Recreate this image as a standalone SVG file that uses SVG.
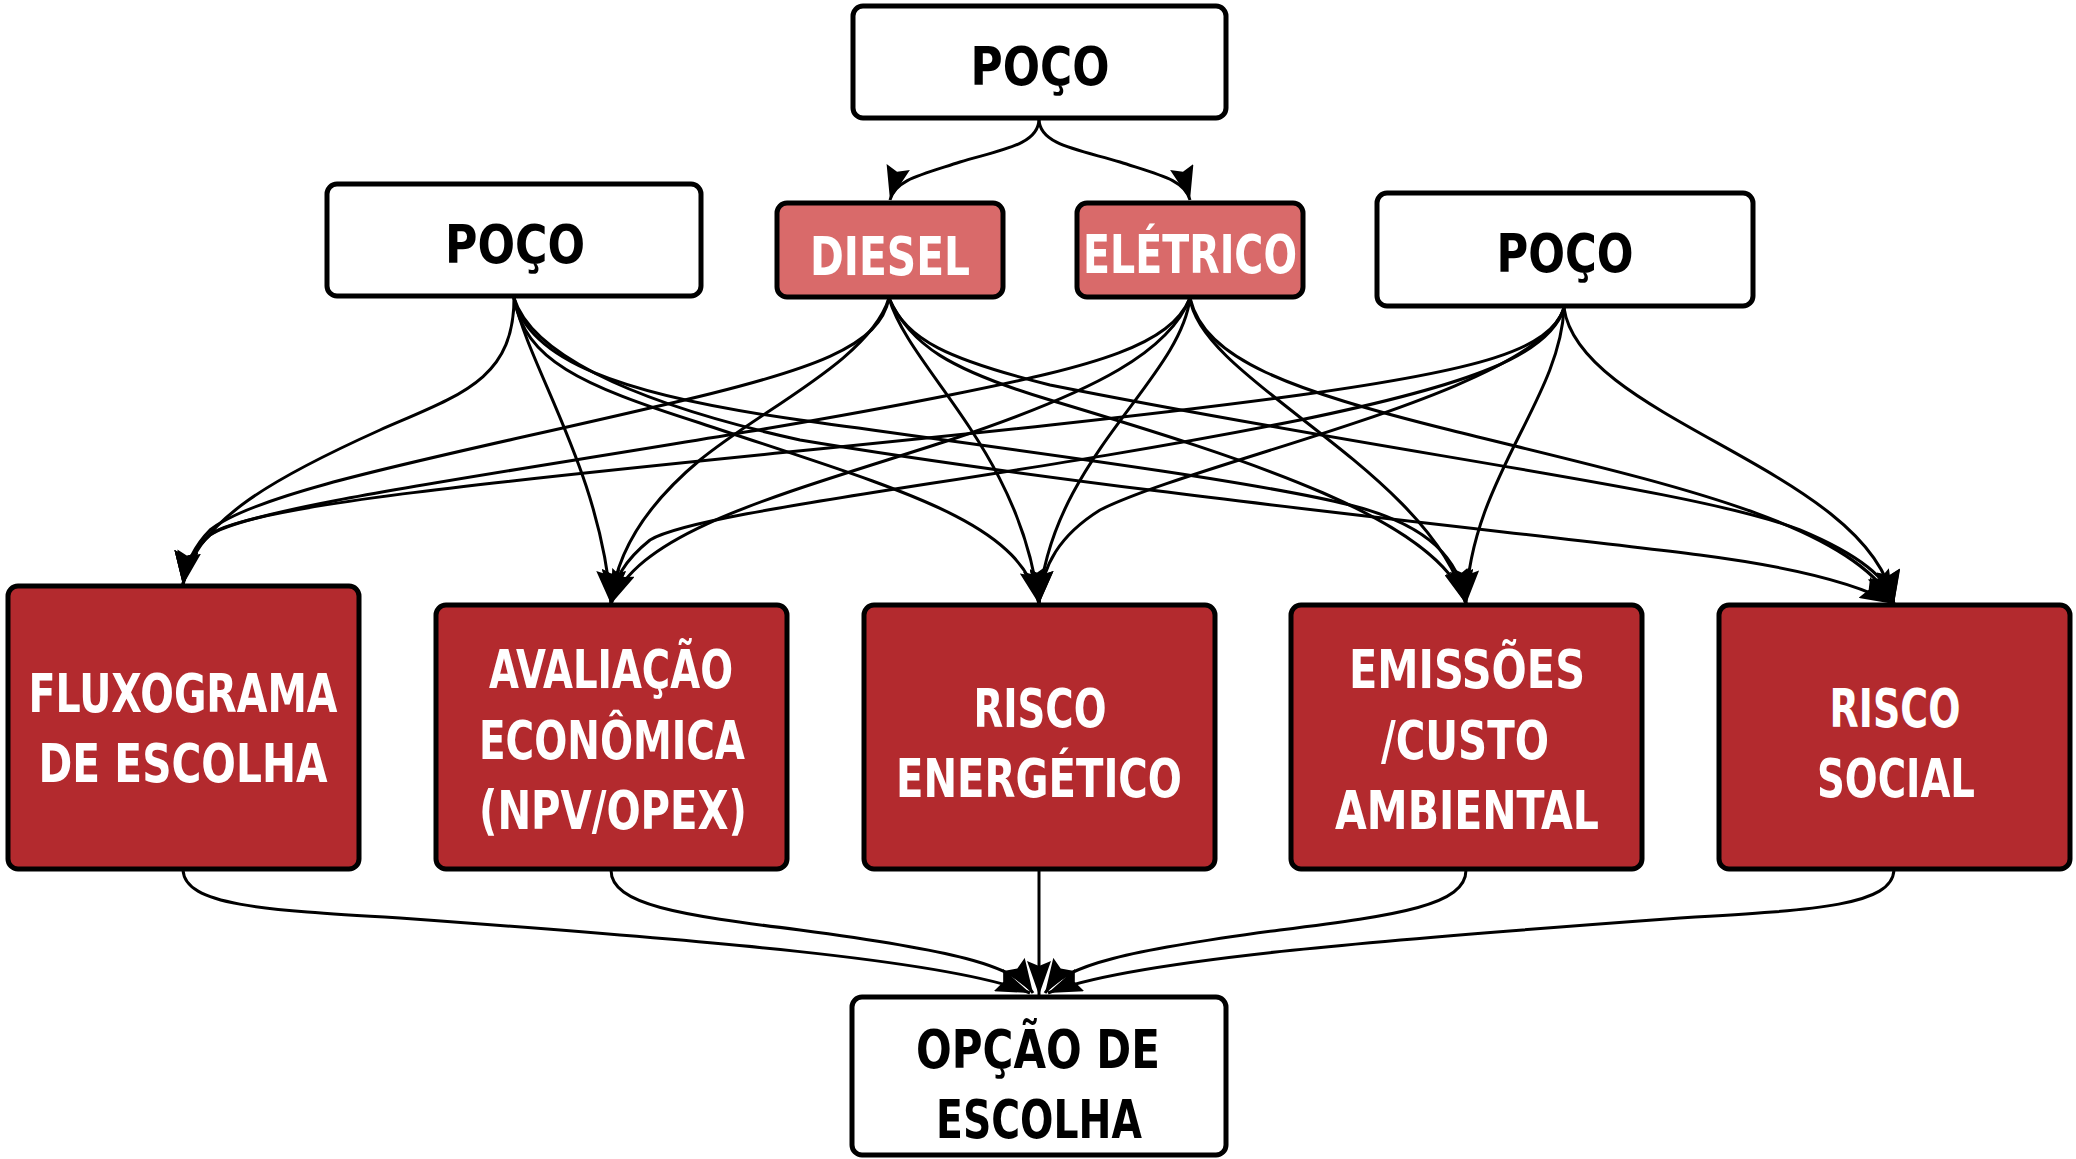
<svg xmlns="http://www.w3.org/2000/svg" width="2076" height="1159" viewBox="0 0 2076 1159">
<defs>
<style>
.box{stroke:#000;stroke-width:5}
.w{fill:#fff}
.r{fill:#B32A2E}
.l{fill:#D96A6A}
.t{font-family:"Liberation Sans Narrow","DejaVu Sans Condensed","Liberation Sans",sans-serif;font-size:54px;font-weight:bold;text-anchor:middle}
.tb{fill:#000}
.tw{fill:#fff}
.e{fill:none;stroke:#000;stroke-width:3;marker-end:url(#ah)}
</style>
<marker id="ah" viewBox="0 0 34 24" refX="34" refY="12" markerWidth="34" markerHeight="24" markerUnits="userSpaceOnUse" orient="auto">
<path d="M0,0 L34,12 L0,24 L5,12 z" fill="#000"/>
</marker>
</defs>
<rect width="2076" height="1159" fill="#fff"/>
<g id="connectors">
<path class="e" d="M1039,119 C1039,145 1000,150 960,162 C920,175 895,180 890,200"/>
<path class="e" d="M1039,119 C1039,145 1080,150 1120,162 C1160,175 1185,180 1190,200"/>
<path class="e" d="M514,298 C514,380 460,395 380,430 C280,475 195,520 183,585"/>
<path class="e" d="M514,298 C530,370 600,470 611,604"/>
<path class="e" d="M514,298 C525,360 580,385 700,423 C900,490 1020,520 1039,604"/>
<path class="e" d="M514,298 C528,360 620,395 800,420 C1000,448 1250,480 1350,505 C1430,525 1460,560 1466,604"/>
<path class="e" d="M514,298 C530,350 620,400 800,440 C1100,490 1500,530 1700,555 C1800,568 1860,585 1894,604"/>
<path class="e" d="M889,298 C880,345 820,370 650,408 C450,455 260,490 210,530 C195,545 185,565 183,585"/>
<path class="e" d="M889,298 C870,360 760,410 700,460 C640,510 615,560 611,604"/>
<path class="e" d="M889,298 C910,370 1020,450 1039,604"/>
<path class="e" d="M889,298 C910,345 950,370 1050,400 C1250,460 1440,520 1466,604"/>
<path class="e" d="M889,298 C905,340 950,360 1050,385 C1400,455 1700,490 1800,530 C1860,555 1890,580 1894,604"/>
<path class="e" d="M1190,298 C1170,345 1100,365 950,395 C650,455 260,500 210,535 C195,548 185,565 183,585"/>
<path class="e" d="M1190,298 C1170,350 1100,390 950,440 C780,495 640,530 611,604"/>
<path class="e" d="M1190,298 C1180,380 1050,460 1039,604"/>
<path class="e" d="M1190,298 C1200,380 1430,470 1466,604"/>
<path class="e" d="M1190,298 C1205,360 1290,390 1450,430 C1650,480 1850,520 1894,604"/>
<path class="e" d="M1564,308 C1550,350 1480,370 1300,395 C900,450 260,490 210,535 C195,548 185,565 183,585"/>
<path class="e" d="M1564,308 C1550,355 1470,385 1300,420 C1000,480 700,510 650,540 C625,560 613,580 611,604"/>
<path class="e" d="M1564,308 C1540,390 1200,460 1100,510 C1060,535 1042,565 1039,604"/>
<path class="e" d="M1564,308 C1560,400 1470,480 1466,604"/>
<path class="e" d="M1564,308 C1580,420 1870,470 1894,604"/>
<path class="e" d="M183,870 C185,905 260,910 400,918 C700,940 950,960 1030,993"/>
<path class="e" d="M611,870 C611,905 680,915 800,930 C950,950 1015,965 1033,993"/>
<path class="e" d="M1039,870 L1039,995"/>
<path class="e" d="M1466,870 C1466,905 1400,915 1280,930 C1130,950 1063,965 1045,993"/>
<path class="e" d="M1894,870 C1892,905 1820,910 1680,918 C1380,940 1128,960 1048,993"/>
</g>
<g id="poco-top">
<rect class="box w" x="853" y="6" width="373" height="112" rx="10"/>
<text class="t tb" x="1040" y="85" textLength="139" lengthAdjust="spacingAndGlyphs">POÇO</text>
</g>
<g id="poco-left">
<rect class="box w" x="327" y="184" width="374" height="112" rx="10"/>
<text class="t tb" x="515" y="263" textLength="140" lengthAdjust="spacingAndGlyphs">POÇO</text>
</g>
<g id="diesel">
<rect class="box l" x="777" y="203" width="226" height="94" rx="10"/>
<text class="t tw" x="890" y="275" textLength="160" lengthAdjust="spacingAndGlyphs">DIESEL</text>
</g>
<g id="eletrico">
<rect class="box l" x="1077" y="203" width="226" height="94" rx="10"/>
<text class="t tw" x="1190" y="273" textLength="214" lengthAdjust="spacingAndGlyphs">ELÉTRICO</text>
</g>
<g id="poco-right">
<rect class="box w" x="1377" y="193" width="376" height="113" rx="10"/>
<text class="t tb" x="1565" y="272" textLength="137" lengthAdjust="spacingAndGlyphs">POÇO</text>
</g>
<g id="fluxograma">
<rect class="box r" x="8" y="586" width="351" height="283" rx="10"/>
<text class="t tw" x="183" y="712" textLength="309" lengthAdjust="spacingAndGlyphs">FLUXOGRAMA</text>
<text class="t tw" x="183" y="782" textLength="289" lengthAdjust="spacingAndGlyphs">DE ESCOLHA</text>
</g>
<g id="avaliacao">
<rect class="box r" x="436" y="605" width="351" height="264" rx="10"/>
<text class="t tw" x="611" y="688" textLength="244" lengthAdjust="spacingAndGlyphs">AVALIAÇÃO</text>
<text class="t tw" x="612" y="759" textLength="266" lengthAdjust="spacingAndGlyphs">ECONÔMICA</text>
<text class="t tw" x="613" y="829" textLength="268" lengthAdjust="spacingAndGlyphs">(NPV/OPEX)</text>
</g>
<g id="risco-energetico">
<rect class="box r" x="864" y="605" width="351" height="264" rx="10"/>
<text class="t tw" x="1040" y="727" textLength="133" lengthAdjust="spacingAndGlyphs">RISCO</text>
<text class="t tw" x="1039" y="797" textLength="286" lengthAdjust="spacingAndGlyphs">ENERGÉTICO</text>
</g>
<g id="emissoes">
<rect class="box r" x="1291" y="605" width="351" height="264" rx="10"/>
<text class="t tw" x="1467" y="688" textLength="236" lengthAdjust="spacingAndGlyphs">EMISSÕES</text>
<text class="t tw" x="1465" y="759" textLength="168" lengthAdjust="spacingAndGlyphs">/CUSTO</text>
<text class="t tw" x="1467" y="829" textLength="264" lengthAdjust="spacingAndGlyphs">AMBIENTAL</text>
</g>
<g id="risco-social">
<rect class="box r" x="1719" y="605" width="351" height="264" rx="10"/>
<text class="t tw" x="1895" y="727" textLength="131" lengthAdjust="spacingAndGlyphs">RISCO</text>
<text class="t tw" x="1896" y="797" textLength="158" lengthAdjust="spacingAndGlyphs">SOCIAL</text>
</g>
<g id="opcao">
<rect class="box w" x="852" y="997" width="374" height="158" rx="10"/>
<text class="t tb" x="1038" y="1068" textLength="244" lengthAdjust="spacingAndGlyphs">OPÇÃO DE</text>
<text class="t tb" x="1039" y="1138" textLength="206" lengthAdjust="spacingAndGlyphs">ESCOLHA</text>
</g>
</svg>
